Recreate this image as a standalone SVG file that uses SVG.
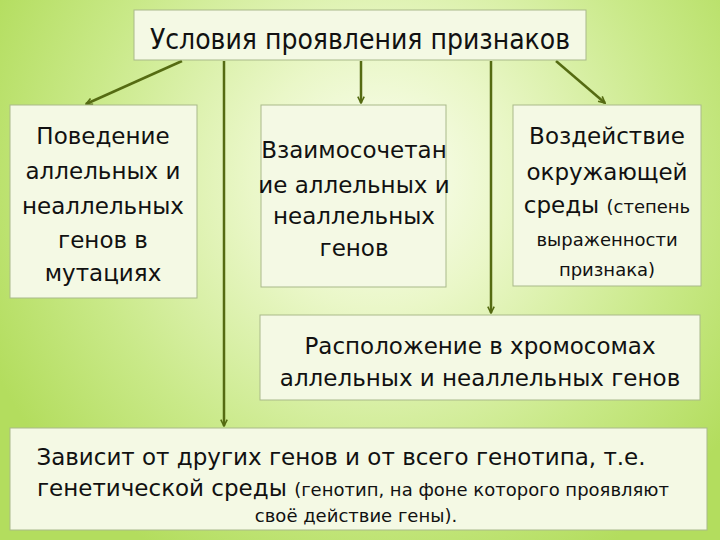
<svg xmlns="http://www.w3.org/2000/svg" width="720" height="540" viewBox="0 0 720 540">
<defs>
<radialGradient id="bg" cx="380" cy="180" r="430" gradientUnits="userSpaceOnUse">
<stop offset="0" stop-color="#fcfef4"/>
<stop offset="0.3" stop-color="#eaf7c8"/>
<stop offset="0.7" stop-color="#c9e988"/>
<stop offset="1" stop-color="#b3dd5e"/>
</radialGradient>
<marker id="ah" viewBox="0 0 10 10" refX="9" refY="5" markerWidth="8" markerHeight="8" markerUnits="userSpaceOnUse" orient="auto">
<path d="M1,1 L9,5 L1,9" fill="none" stroke="#556b12" stroke-width="2"/>
</marker>
</defs>
<style>
.box{fill:#f4f9e4;stroke:#a9b98a;stroke-width:1}
.t{font-family:"DejaVu Sans","Noto Sans",sans-serif;font-size:23px;fill:#111;text-anchor:middle}
.s{font-size:18px}
.c{stroke:#556b12;stroke-width:2.5;fill:none;marker-end:url(#ah)}
</style>
<rect width="720" height="540" fill="url(#bg)"/>
<g id="connectors">
<line class="c" x1="182" y1="61" x2="86" y2="104"/>
<line class="c" x1="224" y1="61" x2="224" y2="426"/>
<line class="c" x1="361" y1="61" x2="361" y2="103"/>
<line class="c" x1="491" y1="61" x2="491" y2="313"/>
<line class="c" x1="556" y1="61" x2="605" y2="103"/>
</g>
<g id="title">
<rect class="box" x="134" y="10" width="452" height="50"/>
<text class="t" x="360" y="49" style="font-size:28px;font-family:'DejaVu Sans Condensed','DejaVu Sans',sans-serif">Условия проявления признаков</text>
</g>
<g id="n1">
<rect class="box" x="10" y="105" width="187" height="193"/>
<text class="t" x="103" y="144">Поведение</text>
<text class="t" x="103" y="179">аллельных и</text>
<text class="t" x="103" y="214">неаллельных</text>
<text class="t" x="103" y="248">генов в</text>
<text class="t" x="103" y="281">мутациях</text>
</g>
<g id="n2">
<rect class="box" x="261" y="105" width="185" height="182"/>
<text class="t" x="354" y="158">Взаимосочетан</text>
<text class="t" x="354" y="193">ие аллельных и</text>
<text class="t" x="354" y="224">неаллельных</text>
<text class="t" x="354" y="256">генов</text>
</g>
<g id="n3">
<rect class="box" x="513" y="105" width="188" height="181"/>
<text class="t" x="607" y="144">Воздействие</text>
<text class="t" x="607" y="180">окружающей</text>
<text class="t" x="607" y="213">среды <tspan class="s">(степень</tspan></text>
<text class="t s" x="607" y="246">выраженности</text>
<text class="t s" x="607" y="276">признака)</text>
</g>
<g id="n4">
<rect class="box" x="260" y="315" width="440" height="85"/>
<text class="t" x="480" y="354">Расположение в хромосомах</text>
<text class="t" x="480" y="386">аллельных и неаллельных генов</text>
</g>
<g id="n5">
<rect class="box" x="10" y="428" width="697" height="102"/>
<text class="t" x="341" y="465">Зависит от других генов и от всего генотипа, т.е.</text>
<text class="t" x="353" y="496">генетической среды <tspan class="s">(генотип, на фоне которого проявляют</tspan></text>
<text class="t s" x="356" y="522">своё действие гены).</text>
</g>
</svg>
